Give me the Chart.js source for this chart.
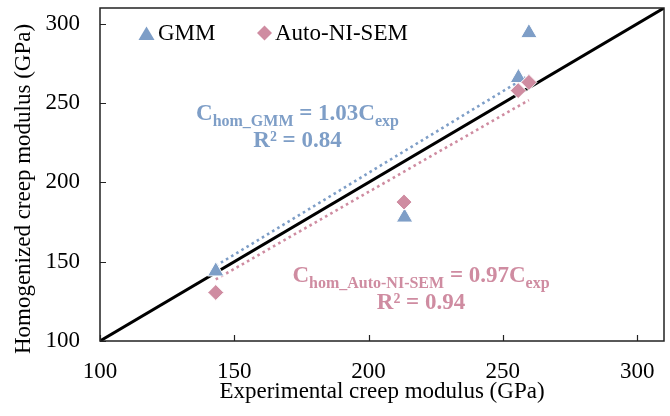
<!DOCTYPE html>
<html>
<head>
<meta charset="utf-8">
<script src="https://cdn.jsdelivr.net/npm/chart.js@4.4.0/dist/chart.umd.min.js"></script>
<style>
  html, body { margin: 0; padding: 0; background: #fff; }
</style>
</head>
<body>
<canvas id="chart" width="670" height="416"></canvas>
<script>
// data (GPa)
const gmmX = [143.1, 213.4, 255.8, 259.7];
const gmmY = [144.0, 178.0, 266.0, 294.3];
const autoX = [143.1, 213.2, 255.7, 259.7];
const autoY = [130.6, 187.6, 257.9, 263.1];
const gmmSlope = 1.03;
const autoSlope = 0.97;
const axisMin = 100;
const axisMax = 310;
const tickValues = [100, 150, 200, 250, 300];

const BLUE = '#7e9ec7';
const PINK = '#cf8ca1';
const SERIF = "'Liberation Serif', 'Times New Roman', serif";

const toPoints = (xs, ys) => xs.map((x, i) => ({ x: x, y: ys[i] }));
const trend = (xs, k) => {
    const lo = Math.min(...xs), hi = Math.max(...xs);
    return [{ x: lo, y: k * lo }, { x: hi, y: k * hi }];
};

// fixed axis box, no auto padding from labels
const fixScale = size => s => {
    if (s.isHorizontal()) s.height = size; else s.width = size;
    s.paddingTop = s.paddingBottom = s.paddingLeft = s.paddingRight = 0;
};

// rich text line: parts of [text, size, baseline shift]
function drawRich(ctx, parts, cx, by, color) {
    ctx.save();
    ctx.fillStyle = color;
    ctx.textBaseline = 'alphabetic';
    ctx.textAlign = 'left';
    let w = 0;
    parts.forEach(p => { ctx.font = 'bold ' + p[1] + 'px ' + SERIF; w += ctx.measureText(p[0]).width; });
    let x = cx - w / 2;
    parts.forEach(p => {
        ctx.font = 'bold ' + p[1] + 'px ' + SERIF;
        ctx.fillText(p[0], x, by + p[2]);
        x += ctx.measureText(p[0]).width;
    });
    ctx.restore();
}

const decorPlugin = {
    id: 'decor',
    afterDatasetsDraw(chart) {
        const { ctx, chartArea: a, scales: { x, y } } = chart;
        ctx.save();
        // frame
        ctx.strokeStyle = '#222';
        ctx.lineWidth = 1.5;
        ctx.strokeRect(a.left, a.top, a.right - a.left, a.bottom - a.top);
        // inward ticks
        ctx.beginPath();
        tickValues.forEach(v => {
            const px = Math.round(x.getPixelForValue(v)) + 0.5;
            ctx.moveTo(px, a.bottom); ctx.lineTo(px, a.bottom - 6);
            const py = Math.round(y.getPixelForValue(v)) + 0.5;
            ctx.moveTo(a.left, py); ctx.lineTo(a.left + 6, py);
        });
        ctx.lineWidth = 1.2;
        ctx.stroke();

        // y axis title
        ctx.save();
        ctx.translate(24, 189);
        ctx.rotate(-Math.PI / 2);
        ctx.font = '23px ' + SERIF;
        ctx.fillStyle = '#000';
        ctx.textAlign = 'center';
        ctx.textBaseline = 'middle';
        ctx.fillText('Homogenized creep modulus (GPa)', 0, 0);
        ctx.restore();

        // legend
        ctx.fillStyle = BLUE;
        ctx.beginPath();
        ctx.moveTo(146.5, 26.5); ctx.lineTo(154.5, 40); ctx.lineTo(138.5, 40); ctx.closePath();
        ctx.fill();
        ctx.fillStyle = PINK;
        ctx.beginPath();
        ctx.moveTo(264.5, 25.5); ctx.lineTo(272, 33); ctx.lineTo(264.5, 40.5); ctx.lineTo(257, 33); ctx.closePath();
        ctx.fill();
        ctx.fillStyle = '#000';
        ctx.font = '23px ' + SERIF;
        ctx.textBaseline = 'alphabetic';
        ctx.fillText('GMM', 158, 40);
        ctx.fillText('Auto-NI-SEM', 275, 40);
        ctx.restore();

        // regression labels
        drawRich(ctx, [['C', 23, 0], ['hom_GMM', 16, 6], [' = ' + gmmSlope.toFixed(2) + 'C', 23, 0], ['exp', 16, 6]], 297.5, 120, BLUE);
        drawRich(ctx, [['R² = 0.84', 23, 0]], 297.5, 147, BLUE);
        drawRich(ctx, [['C', 23, 0], ['hom_Auto-NI-SEM', 16, 6], [' = ' + autoSlope.toFixed(2) + 'C', 23, 0], ['exp', 16, 6]], 421, 282, PINK);
        drawRich(ctx, [['R² = 0.94', 23, 0]], 421, 309, PINK);
    }
};

new Chart(document.getElementById('chart'), {
    type: 'scatter',
    data: {
        datasets: [
            {
                label: 'Auto-NI-SEM', data: toPoints(autoX, autoY), order: 0,
                pointStyle: 'rectRot', pointRadius: 8, pointHoverRadius: 8,
                backgroundColor: PINK, borderColor: '#fff', borderWidth: 1
            },
            {
                label: 'GMM', data: toPoints(gmmX, gmmY), order: 1,
                pointStyle: 'triangle', pointRadius: 9.5, pointHoverRadius: 9.5,
                backgroundColor: BLUE, borderColor: '#fff', borderWidth: 1
            },
            {
                label: 'GMM fit', data: trend(gmmX, gmmSlope), order: 2, showLine: true,
                pointRadius: 0, borderColor: BLUE, borderWidth: 2.6, borderDash: [2.6, 3.4]
            },
            {
                label: 'Auto fit', data: trend(autoX, autoSlope), order: 2, showLine: true,
                pointRadius: 0, borderColor: PINK, borderWidth: 2.6, borderDash: [2.6, 3.4]
            },
            {
                label: '1:1', data: [{ x: axisMin, y: axisMin }, { x: axisMax, y: axisMax }], order: 3,
                showLine: true, pointRadius: 0, borderColor: '#000', borderWidth: 3
            }
        ]
    },
    options: {
        responsive: false,
        animation: false,
        devicePixelRatio: 1,
        layout: { autoPadding: false, padding: { top: 8, right: 6, left: 0, bottom: 0 } },
        plugins: { legend: { display: false }, tooltip: { enabled: false } },
        scales: {
            x: {
                type: 'linear', min: axisMin, max: axisMax,
                afterBuildTicks: s => { s.ticks = tickValues.map(v => ({ value: v })); },
                afterFit: fixScale(75),
                grid: { display: false, drawTicks: false },
                border: { display: false },
                ticks: { color: '#000', padding: 17, font: { family: SERIF, size: 23 } },
                title: {
                    display: true, text: 'Experimental creep modulus (GPa)', color: '#000',
                    padding: { top: 0, bottom: 10 }, font: { family: SERIF, size: 23 }
                }
            },
            y: {
                type: 'linear', min: axisMin, max: axisMax,
                afterBuildTicks: s => { s.ticks = tickValues.map(v => ({ value: v })); },
                afterFit: fixScale(100),
                grid: { display: false, drawTicks: false },
                border: { display: false },
                ticks: { color: '#000', padding: 20, font: { family: SERIF, size: 23 } }
            }
        }
    },
    plugins: [decorPlugin]
});
</script>
</body>
</html>
